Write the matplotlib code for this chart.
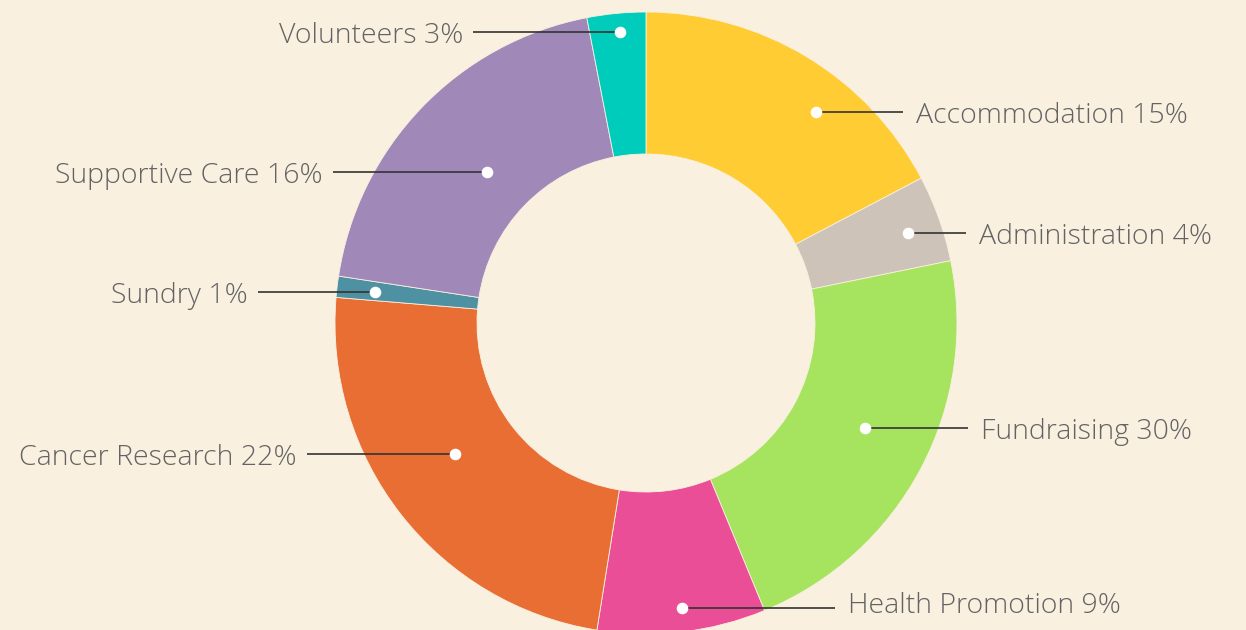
import matplotlib
matplotlib.use("Agg")
import matplotlib.pyplot as plt
import numpy as np

# ---- data ----
categories = ["Accommodation", "Administration", "Fundraising", "Health Promotion",
              "Cancer Research", "Sundry", "Supportive Care", "Volunteers"]
values = [17.3, 4.5, 22.0, 8.75, 23.8, 1.1, 19.55, 3.05]
label_pcts = ["15%", "4%", "30%", "9%", "22%", "1%", "16%", "3%"]

# ---- styles / layout ----
colors = ["#FFCC33", "#CEC3B9", "#A6E35E", "#EA4E96", "#E86E34", "#4E91A3", "#A088B8", "#00CCBB"]
bg = "#FAF0E0"
dot_offset_deg = [-7.75, -0.8, 2.3, 0.45, -3.6, 0.1, 0.3, -0.4]   # math convention
dot_radius = [271, 277, 243, 287, 232, 273, 219, 292]
line_end_x = [257, 320, 322, 189, -339, -388, -313, -173]
text_dy = [0, 0, 0, 6, 0, 0, 0, 0]

W, H = 1246, 630
cx, cy = 646, 323
R, ring = 311, 142

fig = plt.figure(figsize=(W / 100, H / 100), dpi=100, facecolor=bg)
ax = fig.add_axes([0, 0, 1, 1])
ax.set_facecolor(bg)

wedges, _ = ax.pie(values, colors=colors, startangle=90, counterclock=False, radius=R,
                   wedgeprops=dict(width=ring, edgecolor=bg, linewidth=0.6))

for i, w in enumerate(wedges):
    mid = (w.theta1 + w.theta2) / 2 + dot_offset_deg[i]
    a = np.deg2rad(mid)
    x, y = dot_radius[i] * np.cos(a), dot_radius[i] * np.sin(a)
    xe = line_end_x[i]
    ax.plot([x, xe], [y, y], color="#333333", lw=1.2, zorder=3, solid_capstyle="butt")
    ax.scatter([x], [y], s=70, color="white", zorder=4, linewidths=0)
    txt = f"{categories[i]} {label_pcts[i]}"
    ty = y - 11 + text_dy[i]
    if xe > x:
        ax.text(xe + 13, ty, txt, ha="left", va="baseline", fontsize=20.5,
                color="#636363", family="Open Sans", fontweight="light")
    else:
        ax.text(xe - 10, ty, txt, ha="right", va="baseline", fontsize=20.5,
                color="#636363", family="Open Sans", fontweight="light")

ax.set_xlim(-cx, W - cx)
ax.set_ylim(-(H - cy), cy)
ax.set_aspect("equal", adjustable="box")
ax.axis("off")

fig.savefig("out.png", dpi=100, facecolor=bg)
